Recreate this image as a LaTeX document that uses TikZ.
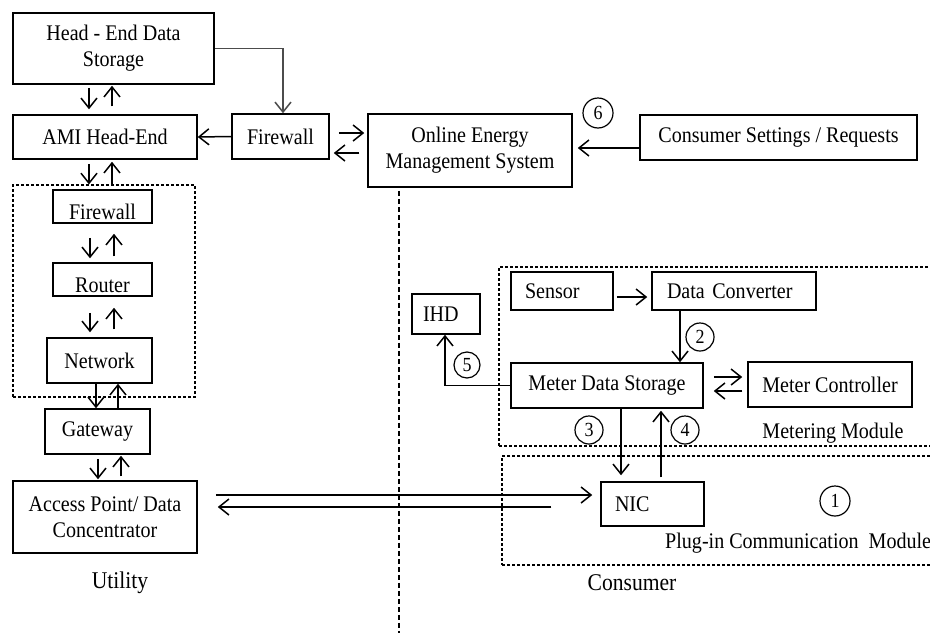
\documentclass[tikz,border=0pt]{standalone}
\usepackage{fontspec}
\setmainfont{Liberation Serif}[FakeStretch=0.9]
\usetikzlibrary{arrows.meta}

% lowers a box label without changing the box it sits in
\newcommand\lowlabel[2]{\raisebox{-#1}[\height][\depth]{#2}}

\begin{document}
\begin{tikzpicture}[x=1pt,y=-1pt,
  font=\fontsize{22.3}{26}\selectfont,
  box/.style={draw, line width=1.5pt, inner sep=0pt, align=center},
  lbox/.style={draw, line width=1.5pt, inner ysep=0pt, align=left},
  group/.style={draw, line width=1.2pt, dash pattern=on 3pt off 2pt, inner sep=0pt},
  divider/.style={line width=1.1pt, dash pattern=on 5pt off 3pt},
  arr/.style={line width=1.5pt, -{Straight Barb[length=10pt,width=16pt,line width=1.5pt]}},
  num/.style={draw, circle, line width=1.2pt, inner sep=0pt, font=\fontsize{20}{20}\selectfont},
  caption/.style={font=\fontsize{24}{24}\selectfont}
]
\useasboundingbox (0,0) rectangle (930,635);

% ---------------- utility side ----------------
\node[box, minimum width=201, minimum height=71] (heds) at (113.5,48.5) {Head - End Data\\Storage};
\node[box, minimum width=184, minimum height=44] (ami) at (105,137) {AMI Head-End};
\node[box, minimum width=97, minimum height=45] (fw1) at (280.5,136.5) {Firewall};

\node[group, minimum width=182, minimum height=212] (util) at (104,291) {};
\node[box, minimum width=99, minimum height=33] (fw2) at (102.5,206.5) {\lowlabel{5pt}{Firewall}};
\node[box, minimum width=99, minimum height=33] (router) at (102.5,279.5) {\lowlabel{6pt}{Router}};
\node[box, minimum width=105, minimum height=45] (net) at (99.5,360.5) {Network};
\node[box, minimum width=105, minimum height=45] (gw) at (97.5,431.5) {Gateway};
\node[box, minimum width=184, minimum height=72] (ap) at (105,517) {Access Point/ Data\\Concentrator};
\node[caption] (utility) at (120,583) {Utility};

% ---------------- energy management ----------------
\node[box, minimum width=204, minimum height=73] (oems) at (470,150.5) {Online Energy\\Management System};
\node[box, minimum width=277, minimum height=45] (csr) at (778.5,137.5) {Consumer Settings / Requests};
\node[num, minimum size=30] (c6) at (598,113) {6};

% ---------------- consumer side ----------------
\node[group, minimum width=440, minimum height=179] (meter) at (719,356.5) {};
\node[group, minimum width=437, minimum height=109] (plug) at (720.5,510.5) {};

\node[lbox, minimum width=102, minimum height=38, text width=74, inner xsep=14] (sensor) at (562,291) {Sensor};
\node[lbox, minimum width=164, minimum height=38, text width=134, inner xsep=15] (dc) at (734,291) {Data Converter};
\node[lbox, minimum width=68, minimum height=40, text width=46, inner xsep=11] (ihd) at (446,314) {IHD};
\node[box, minimum width=192, minimum height=45] (mds) at (607,385.5) {Meter Data Storage};
\node[box, minimum width=164, minimum height=45] (mc) at (830,384.5) {Meter Controller};
\node[lbox, minimum width=103, minimum height=44, text width=75, inner xsep=14] (nic) at (652.5,504) {NIC};

\node[num, minimum size=28] (c2) at (700,337) {2};
\node[num, minimum size=28] (c3) at (589,430) {3};
\node[num, minimum size=28] (c4) at (685,430) {4};
\node[num, minimum size=26] (c5) at (467,365) {5};
\node[num, minimum size=30] (c1) at (835,501) {1};

\node (metlabel) at (833,433) {Metering Module};
\node[anchor=west, inner sep=0pt] (pluglabel) at (665,543) {Plug-in Communication~~Module};
\node[caption] (consumer) at (632,583) {Consumer};

% ---------------- connectors: utility column ----------------
\draw[arr, black!70] (heds.east) -| ([xshift=2.5pt]fw1.north);
\draw[arr] (fw1.west) -- (ami.east);

\draw[arr, shorten <=3pt, shorten >=5pt] ([xshift=-16pt]ami.north |- heds.south) -- ([xshift=-16pt]ami.north);
\draw[arr, shorten <=8pt, shorten >=1pt] ([xshift=7pt]ami.north) -- ([xshift=7pt]ami.north |- heds.south);

\draw[arr, shorten <=4pt] ([xshift=-16pt]ami.south) -- ([xshift=-16pt]ami.south |- util.north);
\draw[arr, shorten >=2pt] ([xshift=7pt]ami.south |- util.north) -- ([xshift=7pt]ami.south);

\draw[arr, shorten <=14pt, shorten >=4pt] ([xshift=-12.5pt]router.north |- fw2.south) -- ([xshift=-12.5pt]router.north);
\draw[arr, shorten <=6pt, shorten >=10pt] ([xshift=11.5pt]router.north) -- ([xshift=11.5pt]router.north |- fw2.south);

\draw[arr, shorten <=16pt, shorten >=5pt] ([xshift=-12.5pt]router.south) -- ([xshift=-12.5pt]router.south |- net.north);
\draw[arr, shorten <=8pt, shorten >=11pt] ([xshift=11.5pt]router.south |- net.north) -- ([xshift=11.5pt]router.south);

\draw[arr] ([xshift=-3.5pt]net.south) -- ([xshift=-3.5pt]net.south |- gw.north);
\draw[arr] ([xshift=18.5pt]net.south |- gw.north) -- ([xshift=18.5pt]net.south);

\draw[arr, shorten <=4pt, shorten >=1pt] ([xshift=0.5pt]gw.south) -- ([xshift=0.5pt]gw.south |- ap.north);
\draw[arr, shorten <=4pt, shorten >=1pt] ([xshift=23.5pt]gw.south |- ap.north) -- ([xshift=23.5pt]gw.south);

% ---------------- connectors: management ----------------
\draw[arr, shorten <=9pt, shorten >=3pt] ([yshift=3.5pt]fw1.east) -- ([yshift=3.5pt]fw1.east -| oems.west);
\draw[arr, shorten <=8pt, shorten >=4pt] ([yshift=-16.5pt]fw1.east -| oems.west) -- ([yshift=-16.5pt]fw1.east);
\draw[arr, shorten >=5pt] ([yshift=-10.5pt]csr.west) -- ([yshift=-10.5pt]csr.west -| oems.east);

\coordinate (divend) at (399,633);
\draw[divider, shorten <=3pt] ([xshift=-71pt]oems.south) -- (divend);

% ---------------- connectors: consumer ----------------
\draw[arr, shorten <=3pt, shorten >=4pt] ([yshift=-6pt]sensor.east) -- ([yshift=-6pt]sensor.east -| dc.west);
\draw[arr] ([xshift=-54pt]dc.south) -- ([xshift=-54pt]dc.south |- mds.north);
\draw[arr] (mds.west) -| ([xshift=-1pt]ihd.south);

\draw[arr, shorten <=10pt, shorten >=5pt] ([yshift=8.5pt]mds.east) -- ([yshift=8.5pt]mds.east -| mc.west);
\draw[arr, shorten <=5pt, shorten >=10pt] ([yshift=-5.5pt]mds.east -| mc.west) -- ([yshift=-5.5pt]mds.east);

\draw[arr, shorten >=6pt] ([xshift=14pt]mds.south) -- ([xshift=14pt]mds.south |- nic.north);
\draw[arr, shorten <=4pt, shorten >=2pt] ([xshift=54pt]mds.south |- nic.north) -- ([xshift=54pt]mds.south);

\draw[arr, shorten <=18pt, shorten >=8pt] ([yshift=9pt]nic.west -| ap.east) -- ([yshift=9pt]nic.west);
\draw[arr, shorten <=49pt, shorten >=20pt] ([yshift=-3pt]nic.west) -- ([yshift=-3pt]nic.west -| ap.east);
\end{tikzpicture}
\end{document}
